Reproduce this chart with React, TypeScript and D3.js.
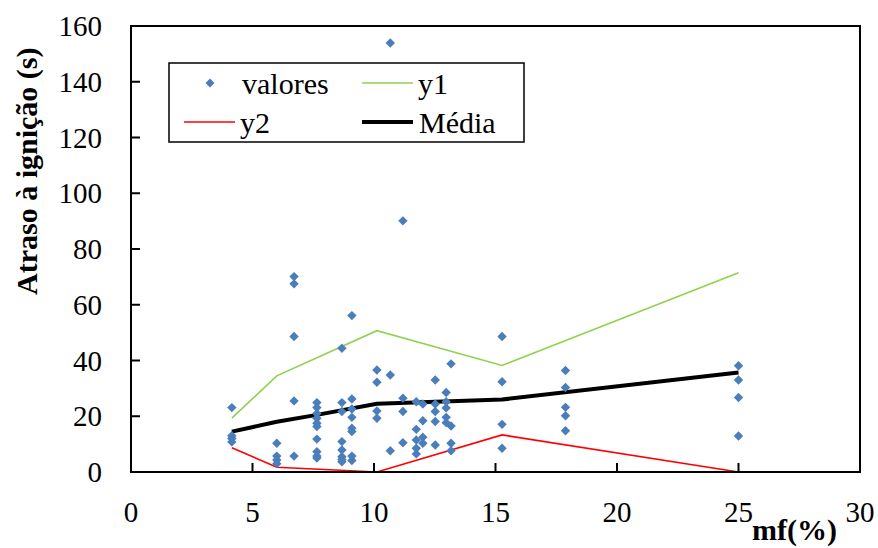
import React from "react";
import * as d3 from "d3";

// scatter values grouped by mf(%)
const valoresMf = [
  4.15, 4.15, 4.15, 4.15,
  6.0, 6.0, 6.0, 6.0,
  6.71, 6.71, 6.71, 6.71, 6.71,
  7.65, 7.65, 7.65, 7.65, 7.65, 7.65, 7.65, 7.65, 7.65, 7.65,
  8.68, 8.68, 8.68, 8.68, 8.68, 8.68, 8.68, 8.68,
  9.09, 9.09, 9.09, 9.09, 9.09, 9.09, 9.09, 9.09,
  10.12, 10.12, 10.12, 10.12,
  10.67, 10.67, 10.67,
  11.19, 11.19, 11.19, 11.19,
  11.74, 11.74, 11.74, 11.74, 11.74,
  12.01, 12.01, 12.01, 12.01,
  12.52, 12.52, 12.52, 12.52, 12.52,
  12.97, 12.97, 12.97, 12.97, 12.97,
  13.17, 13.17, 13.17, 13.17,
  15.27, 15.27, 15.27, 15.27,
  17.88, 17.88, 17.88, 17.88, 17.88,
  25.0, 25.0, 25.0, 25.0,
];
const valoresAtraso = [
  23.1, 13.0, 12.0, 10.8,
  10.3, 5.7, 4.3, 3.0,
  70.1, 67.5, 48.6, 25.5, 5.7,
  24.9, 23.1, 21.0, 19.3, 17.5, 16.3, 11.8, 7.3, 5.7, 5.0,
  44.4, 24.9, 21.7, 10.9, 7.9, 5.5, 4.5, 3.7,
  56.1, 26.2, 22.6, 19.6, 15.7, 14.5, 5.7, 4.1,
  36.6, 32.2, 21.9, 19.3,
  153.9, 34.8, 7.6,
  90.1, 26.5, 21.7, 10.5,
  25.2, 15.3, 11.5, 8.5, 6.5,
  24.4, 18.4, 12.5, 10.3,
  33.0, 24.4, 21.7, 18.1, 9.7,
  28.5, 25.2, 23.0, 19.6, 17.7,
  38.8, 16.5, 10.3, 7.6,
  48.6, 32.4, 17.1, 8.5,
  36.4, 30.3, 23.2, 20.2, 14.8,
  38.1, 33.0, 26.7, 12.9,
];

const linhaMf = [4.15, 6.0, 10.12, 15.27, 25.0];
const y1Values = [19.3, 34.5, 50.7, 38.2, 71.5];
const y2Values = [8.7, 1.7, 0.0, 13.3, 0.0];

const mediaMf = [4.15, 6.0, 7.65, 10.12, 15.27, 25.0];
const mediaValues = [14.5, 18.0, 20.5, 24.5, 26.0, 35.7];

const xTicks = [0, 5, 10, 15, 20, 25, 30];
const yTicks = [0, 20, 40, 60, 80, 100, 120, 140, 160];

const W = 878;
const H = 548;
const left = 131;
const right = 860;
const top = 26;
const bottom = 472;
const FONT = "Liberation Serif";

const x = d3.scaleLinear().domain([0, 30]).range([left, right]);
const y = d3.scaleLinear().domain([0, 160]).range([bottom, top]);

const diamond = (r: number) => `M0,${-r}L${r},0L0,${r}L${-r},0Z`;

export default function App() {
  const line = d3
    .line<[number, number]>()
    .x((d) => x(d[0]))
    .y((d) => y(d[1]));
  const y1Path = line(linhaMf.map((m, i) => [m, y1Values[i]]));
  const y2Path = line(linhaMf.map((m, i) => [m, y2Values[i]]));
  const mediaPath = line(mediaMf.map((m, i) => [m, mediaValues[i]]));
  const blue = "#4A7EBB";
  const green = "#92D050";
  const red = "#FF0000";
  const ts: React.CSSProperties = { fontFamily: FONT };

  return (
    <svg
      width={W}
      height={H}
      style={{ position: "absolute", left: 0, top: 0, background: "#fff", fontFamily: FONT }}
    >
      <rect x={0} y={0} width={W} height={H} fill="#fff" />
      {/* lines */}
      <path d={y1Path || ""} fill="none" stroke={green} strokeWidth={1.6} />
      <path d={y2Path || ""} fill="none" stroke={red} strokeWidth={1.6} />
      <path d={mediaPath || ""} fill="none" stroke="#000" strokeWidth={4} strokeLinejoin="round" />
      {/* points */}
      {valoresMf.map((m, i) => (
        <path
          key={i}
          d={diamond(4.7)}
          transform={`translate(${x(m)},${y(valoresAtraso[i])})`}
          fill={blue}
        />
      ))}
      {/* frame */}
      <rect x={left} y={top} width={right - left} height={bottom - top} fill="none" stroke="#000" strokeWidth={2} />
      {/* y ticks */}
      {yTicks.map((t) => (
        <g key={"y" + t}>
          <line x1={left} x2={left + 9} y1={y(t)} y2={y(t)} stroke="#000" strokeWidth={2} />
          <text x={102} y={y(t)} dy="0.35em" textAnchor="end" fontSize={29} style={ts}>
            {t}
          </text>
        </g>
      ))}
      {/* x ticks */}
      {xTicks.map((t) => (
        <g key={"x" + t}>
          <line x1={x(t)} x2={x(t)} y1={bottom} y2={bottom - 9} stroke="#000" strokeWidth={2} />
          <text x={x(t)} y={512} dy="0.35em" textAnchor="middle" fontSize={29} style={ts}>
            {t}
          </text>
        </g>
      ))}
      {/* axis titles */}
      <text
        transform={`translate(37,295) rotate(-90)`}
        fontSize={30}
        fontWeight="bold"
        textAnchor="start"
        style={ts}
      >
        Atraso à ignição (s)
      </text>
      <text x={752} y={540} fontSize={30} fontWeight="bold" style={ts}>
        mf(%)
      </text>
      {/* legend */}
      <rect x={169} y={63} width={355} height={79} fill="#fff" stroke="#000" strokeWidth={1.5} />
      <path d={diamond(4.5)} transform="translate(210,83)" fill={blue} />
      <text x={242} y={94} fontSize={30} style={ts}>valores</text>
      <line x1={362} x2={413} y1={83} y2={83} stroke={green} strokeWidth={1.6} />
      <text x={418} y={94} fontSize={30} style={ts}>y1</text>
      <line x1={184} x2={235} y1={122} y2={122} stroke={red} strokeWidth={1.6} />
      <text x={240} y={133} fontSize={30} style={ts}>y2</text>
      <line x1={362} x2={413} y1={122} y2={122} stroke="#000" strokeWidth={4} />
      <text x={419} y={133} fontSize={30} style={ts}>Média</text>
    </svg>
  );
}
